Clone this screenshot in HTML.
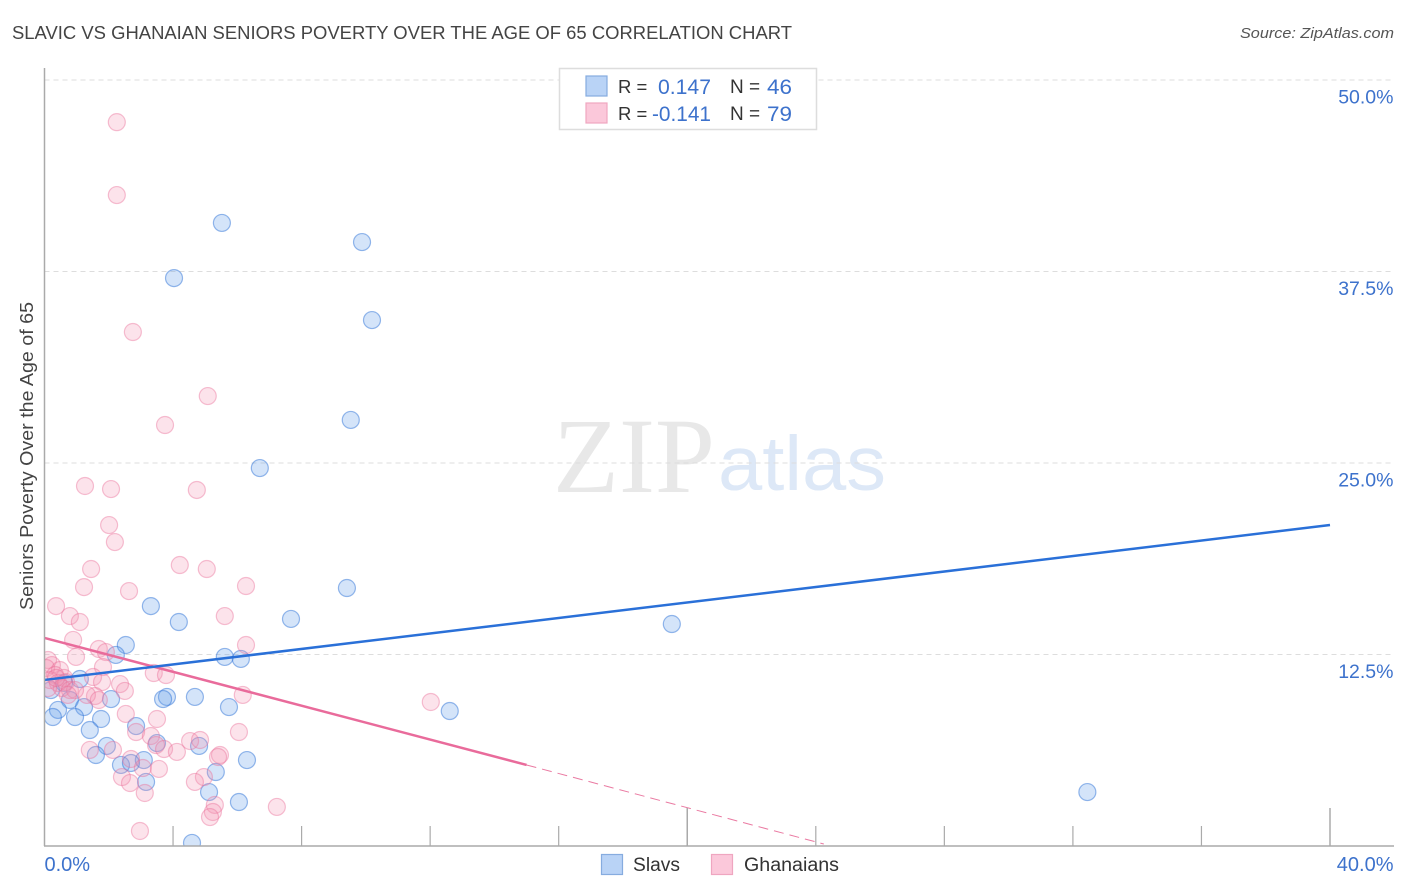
<!DOCTYPE html>
<html lang="en">
<head>
<meta charset="utf-8">
<title>Slavic vs Ghanaian Seniors Poverty Correlation Chart</title>
<style>
html,body{margin:0;padding:0;background:#fff;}
svg{display:block;font-family:"Liberation Sans",sans-serif;}
</style>
</head>
<body>
<svg id="chart" xmlns="http://www.w3.org/2000/svg" width="1406" height="892" viewBox="0 0 1406 892">
  <defs>
    <clipPath id="plot-clip"><rect x="45" y="60" width="1350" height="786"></rect></clipPath>
  </defs>
  <text x="12" y="39" font-size="18.5" fill="#444" textLength="780" lengthAdjust="spacingAndGlyphs">SLAVIC VS GHANAIAN SENIORS POVERTY OVER THE AGE OF 65 CORRELATION CHART</text>
  <text x="1394" y="38" font-size="15" font-style="italic" fill="#555" text-anchor="end" textLength="154" lengthAdjust="spacingAndGlyphs">Source: ZipAtlas.com</text>
  <g>
    <text x="553" y="492" font-family="'Liberation Serif',serif" font-size="107" fill="#e8e8e8" textLength="162" lengthAdjust="spacingAndGlyphs">ZIP</text>
    <text x="718" y="490" font-size="77" fill="#dde8f7" textLength="168" lengthAdjust="spacingAndGlyphs">atlas</text>
  </g>
  <g id="grid"></g>
  <g id="dots" clip-path="url(#plot-clip)"></g>
  <g id="trends"></g>
  <g id="axes">
    <line x1="44.5" y1="68" x2="44.5" y2="846" stroke="#aaa" stroke-width="1.5"></line>
    <line x1="44" y1="846" x2="1394" y2="846" stroke="#aaa" stroke-width="1.5"></line>
  </g>
  <g id="tick-labels"></g>
  <text transform="translate(33,456) rotate(-90)" font-size="18" fill="#444" text-anchor="middle" textLength="308" lengthAdjust="spacingAndGlyphs">Seniors Poverty Over the Age of 65</text>
  <g>
    <rect x="559.5" y="68.5" width="257" height="61" fill="#fff" stroke="#ddd" stroke-width="1.5"></rect>
    <rect x="586" y="76" width="21" height="20" fill="#b9d3f6" stroke="#86acdf" stroke-width="1.2"></rect>
    <rect x="586" y="103" width="21" height="20" fill="#fbc8da" stroke="#efa6c0" stroke-width="1.2"></rect>
    <text x="618" y="93" font-size="18.5" fill="#333">R =</text>
    <text x="658" y="94" font-size="21.5" fill="#3d72cc" textLength="53" lengthAdjust="spacingAndGlyphs">0.147</text>
    <text x="730" y="93" font-size="19" fill="#333">N =</text>
    <text x="767" y="94" font-size="21.5" fill="#3d72cc" textLength="25" lengthAdjust="spacingAndGlyphs">46</text>
    <text x="618" y="120" font-size="18.5" fill="#333">R =</text>
    <text x="652" y="121" font-size="21.5" fill="#3d72cc" textLength="59" lengthAdjust="spacingAndGlyphs">-0.141</text>
    <text x="730" y="120" font-size="19" fill="#333">N =</text>
    <text x="767" y="121" font-size="21.5" fill="#3d72cc" textLength="25" lengthAdjust="spacingAndGlyphs">79</text>
  </g>
  <g>
    <rect x="601.5" y="854.5" width="21" height="20" fill="#b9d3f6" stroke="#86acdf" stroke-width="1.2"></rect>
    <text x="633" y="871" font-size="19" fill="#333" textLength="47" lengthAdjust="spacingAndGlyphs">Slavs</text>
    <rect x="711.5" y="854.5" width="21" height="20" fill="#fbc8da" stroke="#efa6c0" stroke-width="1.2"></rect>
    <text x="744" y="871" font-size="19" fill="#333" textLength="95" lengthAdjust="spacingAndGlyphs">Ghanaians</text>
  </g>
</svg>
<script>
const slavX = [5.52,9.88,4.03,10.19,9.53,6.70,9.41,19.52,12.61,32.45,3.31,4.18,7.67,2.53,2.22,5.61,6.11,1.10,0.20,0.61,0.79,2.07,3.81,3.69,4.68,5.74,0.42,0.26,1.23,0.95,1.76,1.41,2.85,1.94,1.60,3.50,4.81,6.30,3.09,2.38,2.69,3.16,5.33,5.12,6.05,4.59];
const slavY = [40.67,39.42,37.07,34.33,27.81,24.67,16.84,14.49,8.81,3.52,15.66,14.62,14.82,13.12,12.47,12.34,12.21,10.90,10.18,10.64,9.53,9.59,9.73,9.59,9.73,9.07,8.88,8.42,9.07,8.42,8.29,7.57,7.83,6.53,5.94,6.72,6.53,5.61,5.61,5.29,5.42,4.18,4.83,3.52,2.87,0.20];
const ghanaX = [2.25,2.25,2.75,5.08,3.75,4.74,1.26,2.07,2.01,2.19,1.45,1.23,4.21,5.05,6.27,2.63,0.36,0.79,1.10,5.61,0.89,6.27,1.69,1.91,0.98,1.82,3.40,3.78,1.51,1.79,2.35,2.50,6.17,1.57,1.32,2.53,3.50,1.69,6.05,2.85,3.31,4.53,4.84,3.47,3.72,1.41,2.13,4.12,2.69,5.46,5.40,3.06,3.56,4.96,4.68,2.41,2.66,3.12,5.30,5.24,5.15,7.23,2.97,12.02,0.11,0.23,0.05,0.48,0.33,0.61,0.17,0.67,0.42,0.54,0.79,0.11,0.95,0.73,0.36];
const ghanaY = [47.25,42.49,33.55,29.37,27.48,23.24,23.50,23.30,20.95,19.84,18.08,16.90,18.34,18.08,16.97,16.64,15.66,15.01,14.62,15.01,13.45,13.12,12.86,12.66,12.34,11.68,11.29,11.16,11.03,10.70,10.57,10.12,9.86,9.79,9.86,8.62,8.29,9.53,7.44,7.44,7.18,6.85,6.92,6.59,6.33,6.27,6.27,6.14,5.68,5.94,5.81,5.09,5.03,4.50,4.18,4.50,4.11,3.46,2.68,2.22,1.89,2.55,0.98,9.40,12.14,11.81,11.62,11.49,11.16,10.97,10.83,10.70,10.64,10.31,10.18,10.31,10.18,9.86,10.97];
const slavTrendX = [0,40];
const slavTrendY = [10.84,20.95];
const ghanaTrendX = [0,15];
const ghanaTrendY = [13.58,5.29];
const ghanaDashX = [15,24.25];
const ghanaDashY = [5.29,0.13];
const yTicks = [12.5,25,37.5,50];
const yTickLabels = ["12.5%","25.0%","37.5%","50.0%"];
const xMinorTicks = [4,8,12,16,24,28,32,36];
const xMajorTicks = [20,40];
const xEndValues = [0,40];
const xEndLabels = ["0.0%","40.0%"];

const NS = "http://www.w3.org/2000/svg";
const xScale = v => 44.5 + v * (1330 - 44.5) / 40;
const yScale = v => 846 - v * (846 - 80) / 50;
function make(tag, parent, attrs) {
  const el = document.createElementNS(NS, tag);
  for (const k in attrs) el.setAttribute(k, attrs[k]);
  parent.appendChild(el);
  return el;
}
const grid = document.getElementById("grid");
const axes = document.getElementById("axes");
const labels = document.getElementById("tick-labels");
const dots = document.getElementById("dots");
const trends = document.getElementById("trends");

yTicks.forEach((t, i) => {
  const g = make("line", grid, {x1:44.5, x2:1394, y1:yScale(t), y2:yScale(t), stroke:"#ddd", "stroke-width":1, "stroke-dasharray":"5 4"});
  
  
  const l = make("text", labels, {x:1393.5, y:yScale(t) + 23.5, "font-size":19.5, fill:"#3d72cc", "text-anchor":"end"});
  
  
  l.textContent = yTickLabels[i];
});
xMinorTicks.forEach(t => {
  const k = make("line", axes, {x1:xScale(t), x2:xScale(t), y1:826, y2:846, stroke:"#aaa", "stroke-width":1.2});
  
  
});
xMajorTicks.forEach(t => {
  const k = make("line", axes, {x1:xScale(t), x2:xScale(t), y1:808, y2:846, stroke:"#aaa", "stroke-width":1.5});
  
  
});
xEndValues.forEach((t, i) => {
  const l = make("text", labels, {x:i === 0 ? xScale(t) : 1393.5, y:871, "font-size":20, fill:"#3d72cc", "text-anchor":i === 0 ? "start" : "end"});
  
  
  l.textContent = xEndLabels[i];
});
slavX.forEach((x, i) => {
  const c = make("circle", dots, {cx:xScale(x), cy:yScale(slavY[i]), r:8.5, fill:"rgba(96,156,232,0.27)", stroke:"rgba(48,116,216,0.5)", "stroke-width":1.2});
  
  
});
ghanaX.forEach((x, i) => {
  const c = make("circle", dots, {cx:xScale(x), cy:yScale(ghanaY[i]), r:8.5, fill:"rgba(244,148,178,0.26)", stroke:"rgba(234,108,150,0.42)", "stroke-width":1.2});
  
  
});
const gDash = make("line", trends, {x1:xScale(ghanaDashX[0]), y1:yScale(ghanaDashY[0]), x2:xScale(ghanaDashX[1]), y2:yScale(ghanaDashY[1]), stroke:"#ea7aa2", "stroke-width":1, "stroke-dasharray":"10 6"});


const gLine = make("line", trends, {x1:xScale(ghanaTrendX[0]), y1:yScale(ghanaTrendY[0]), x2:xScale(ghanaTrendX[1]), y2:yScale(ghanaTrendY[1]), stroke:"#e96b9b", "stroke-width":2.5});


const sLine = make("line", trends, {x1:xScale(slavTrendX[0]), y1:yScale(slavTrendY[0]), x2:xScale(slavTrendX[1]), y2:yScale(slavTrendY[1]), stroke:"#2a70d8", "stroke-width":2.5});


</script>
</body>
</html>
